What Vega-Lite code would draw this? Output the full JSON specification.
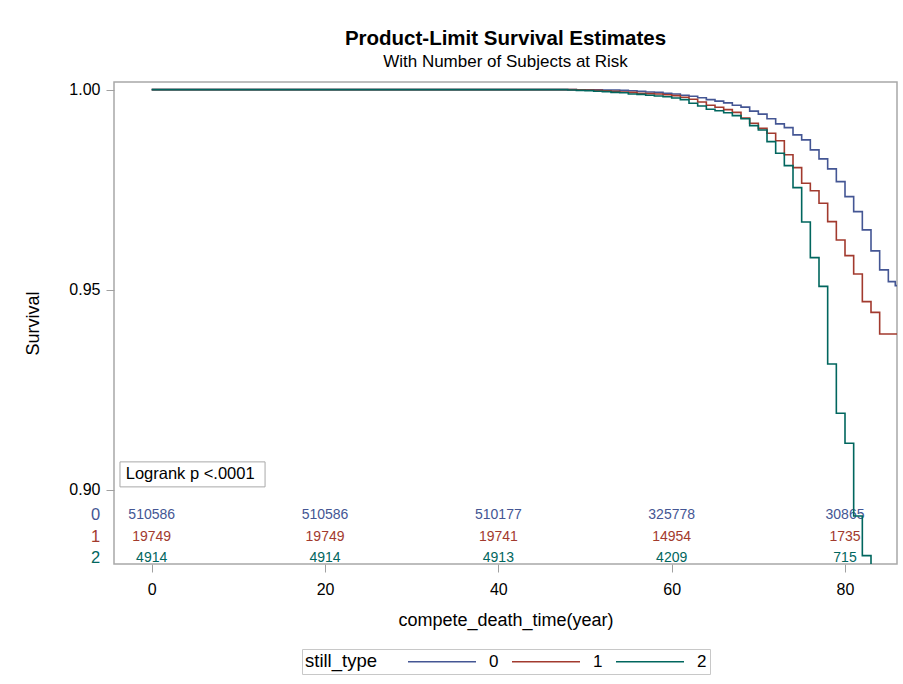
{
  "$schema": "https://vega.github.io/schema/vega-lite/v6.json",
  "width": 783,
  "height": 482,
  "autosize": {"type": "none"},
  "padding": {"left": 114, "top": 82, "right": 6, "bottom": 120},
  "background": "white",
  "title": {
    "text": "Product-Limit Survival Estimates",
    "subtitle": "With Number of Subjects at Risk",
    "font": "Liberation Sans",
    "fontSize": 20.5,
    "fontWeight": "bold",
    "color": "#000000",
    "subtitleFont": "Liberation Sans",
    "subtitleFontSize": 17,
    "subtitleColor": "#000000",
    "subtitlePadding": 4,
    "anchor": "middle",
    "offset": 12
  },
  "config": {
    "font": "Liberation Sans",
    "view": {"stroke": "#a8a8a8", "strokeWidth": 1.5},
    "legend": {"layout": {"bottom": {"anchor": "middle"}}}
  },
  "datasets": {
    "curves": [
      {"still_type": "0", "time": 0, "survival": 1.0},
      {"still_type": "0", "time": 49, "survival": 0.99995},
      {"still_type": "0", "time": 52, "survival": 0.9999},
      {"still_type": "0", "time": 54, "survival": 0.9998},
      {"still_type": "0", "time": 55, "survival": 0.9997},
      {"still_type": "0", "time": 56, "survival": 0.9996},
      {"still_type": "0", "time": 57, "survival": 0.9994},
      {"still_type": "0", "time": 58, "survival": 0.9993},
      {"still_type": "0", "time": 59, "survival": 0.9991},
      {"still_type": "0", "time": 60, "survival": 0.9989},
      {"still_type": "0", "time": 61, "survival": 0.9986},
      {"still_type": "0", "time": 62, "survival": 0.99835},
      {"still_type": "0", "time": 63, "survival": 0.99797},
      {"still_type": "0", "time": 64, "survival": 0.9975},
      {"still_type": "0", "time": 65, "survival": 0.99713},
      {"still_type": "0", "time": 66, "survival": 0.99667},
      {"still_type": "0", "time": 67, "survival": 0.9961},
      {"still_type": "0", "time": 68, "survival": 0.99563},
      {"still_type": "0", "time": 69, "survival": 0.99462},
      {"still_type": "0", "time": 70, "survival": 0.99388},
      {"still_type": "0", "time": 71, "survival": 0.9927},
      {"still_type": "0", "time": 72, "survival": 0.99142},
      {"still_type": "0", "time": 73, "survival": 0.9905},
      {"still_type": "0", "time": 74, "survival": 0.98867},
      {"still_type": "0", "time": 75, "survival": 0.98742},
      {"still_type": "0", "time": 76, "survival": 0.98492},
      {"still_type": "0", "time": 77, "survival": 0.98267},
      {"still_type": "0", "time": 78, "survival": 0.98017},
      {"still_type": "0", "time": 79, "survival": 0.977},
      {"still_type": "0", "time": 80, "survival": 0.97325},
      {"still_type": "0", "time": 81, "survival": 0.9695},
      {"still_type": "0", "time": 82, "survival": 0.96492},
      {"still_type": "0", "time": 83, "survival": 0.95967},
      {"still_type": "0", "time": 84, "survival": 0.95492},
      {"still_type": "0", "time": 85, "survival": 0.952},
      {"still_type": "0", "time": 85.8, "survival": 0.951},
      {"still_type": "0", "time": 86, "survival": 0.951},
      {"still_type": "1", "time": 0, "survival": 1.0},
      {"still_type": "1", "time": 49, "survival": 0.99995},
      {"still_type": "1", "time": 50, "survival": 0.9999},
      {"still_type": "1", "time": 51, "survival": 0.9998},
      {"still_type": "1", "time": 52, "survival": 0.9997},
      {"still_type": "1", "time": 53, "survival": 0.99955},
      {"still_type": "1", "time": 54, "survival": 0.9994},
      {"still_type": "1", "time": 55, "survival": 0.9993},
      {"still_type": "1", "time": 56, "survival": 0.9991},
      {"still_type": "1", "time": 57, "survival": 0.999},
      {"still_type": "1", "time": 58, "survival": 0.9989},
      {"still_type": "1", "time": 59, "survival": 0.9987},
      {"still_type": "1", "time": 60, "survival": 0.9985},
      {"still_type": "1", "time": 61, "survival": 0.9981},
      {"still_type": "1", "time": 62, "survival": 0.9976},
      {"still_type": "1", "time": 63, "survival": 0.9969},
      {"still_type": "1", "time": 64, "survival": 0.9961},
      {"still_type": "1", "time": 65, "survival": 0.9956},
      {"still_type": "1", "time": 66, "survival": 0.995},
      {"still_type": "1", "time": 67, "survival": 0.9943},
      {"still_type": "1", "time": 68, "survival": 0.9929},
      {"still_type": "1", "time": 69, "survival": 0.9916},
      {"still_type": "1", "time": 70, "survival": 0.9903},
      {"still_type": "1", "time": 71, "survival": 0.9891},
      {"still_type": "1", "time": 72, "survival": 0.9872},
      {"still_type": "1", "time": 73, "survival": 0.9837},
      {"still_type": "1", "time": 74, "survival": 0.9805},
      {"still_type": "1", "time": 75, "survival": 0.9766},
      {"still_type": "1", "time": 76, "survival": 0.9747},
      {"still_type": "1", "time": 77, "survival": 0.9716},
      {"still_type": "1", "time": 78, "survival": 0.967},
      {"still_type": "1", "time": 79, "survival": 0.9624},
      {"still_type": "1", "time": 80, "survival": 0.9585},
      {"still_type": "1", "time": 81, "survival": 0.9539},
      {"still_type": "1", "time": 82, "survival": 0.947},
      {"still_type": "1", "time": 83, "survival": 0.9443},
      {"still_type": "1", "time": 84, "survival": 0.9389},
      {"still_type": "1", "time": 86, "survival": 0.9389},
      {"still_type": "2", "time": 0, "survival": 1.0},
      {"still_type": "2", "time": 48, "survival": 0.9999},
      {"still_type": "2", "time": 49, "survival": 0.9998},
      {"still_type": "2", "time": 50, "survival": 0.99975},
      {"still_type": "2", "time": 51, "survival": 0.9996},
      {"still_type": "2", "time": 52, "survival": 0.9995},
      {"still_type": "2", "time": 53, "survival": 0.9993},
      {"still_type": "2", "time": 54, "survival": 0.9992},
      {"still_type": "2", "time": 55, "survival": 0.9989},
      {"still_type": "2", "time": 56, "survival": 0.9988},
      {"still_type": "2", "time": 57, "survival": 0.9986},
      {"still_type": "2", "time": 58, "survival": 0.9984},
      {"still_type": "2", "time": 59, "survival": 0.9982},
      {"still_type": "2", "time": 60, "survival": 0.9979},
      {"still_type": "2", "time": 61, "survival": 0.9975},
      {"still_type": "2", "time": 62, "survival": 0.9966},
      {"still_type": "2", "time": 63, "survival": 0.9959},
      {"still_type": "2", "time": 64, "survival": 0.9951},
      {"still_type": "2", "time": 65, "survival": 0.9947},
      {"still_type": "2", "time": 66, "survival": 0.9942},
      {"still_type": "2", "time": 67, "survival": 0.9935},
      {"still_type": "2", "time": 68, "survival": 0.9927},
      {"still_type": "2", "time": 69, "survival": 0.991},
      {"still_type": "2", "time": 70, "survival": 0.9899},
      {"still_type": "2", "time": 71, "survival": 0.987},
      {"still_type": "2", "time": 72, "survival": 0.9841},
      {"still_type": "2", "time": 73, "survival": 0.981},
      {"still_type": "2", "time": 74, "survival": 0.9755},
      {"still_type": "2", "time": 75, "survival": 0.9669},
      {"still_type": "2", "time": 76, "survival": 0.958},
      {"still_type": "2", "time": 77, "survival": 0.9508},
      {"still_type": "2", "time": 78, "survival": 0.9314},
      {"still_type": "2", "time": 79, "survival": 0.9191},
      {"still_type": "2", "time": 80, "survival": 0.9116},
      {"still_type": "2", "time": 81, "survival": 0.8934},
      {"still_type": "2", "time": 82, "survival": 0.8835},
      {"still_type": "2", "time": 83, "survival": 0.87}
    ],
    "risk": [
      {"still_type": "0", "time": 0, "n": "510586"},
      {"still_type": "0", "time": 20, "n": "510586"},
      {"still_type": "0", "time": 40, "n": "510177"},
      {"still_type": "0", "time": 60, "n": "325778"},
      {"still_type": "0", "time": 80, "n": "30865"},
      {"still_type": "1", "time": 0, "n": "19749"},
      {"still_type": "1", "time": 20, "n": "19749"},
      {"still_type": "1", "time": 40, "n": "19741"},
      {"still_type": "1", "time": 60, "n": "14954"},
      {"still_type": "1", "time": 80, "n": "1735"},
      {"still_type": "2", "time": 0, "n": "4914"},
      {"still_type": "2", "time": 20, "n": "4914"},
      {"still_type": "2", "time": 40, "n": "4913"},
      {"still_type": "2", "time": 60, "n": "4209"},
      {"still_type": "2", "time": 80, "n": "715"}
    ],
    "groups": [
      {"still_type": "0"},
      {"still_type": "1"},
      {"still_type": "2"}
    ],
    "note": [
      {"label": "Logrank p <.0001"}
    ]
  },
  "resolve": {"scale": {"y": "independent"}, "axis": {"y": "independent"}},
  "layer": [
    {
      "data": {"name": "note"},
      "mark": {"type": "rect", "fill": "white", "stroke": "#a8a8a8", "strokeWidth": 1},
      "encoding": {
        "x": {"datum": -3.66, "type": "quantitative", "scale": {"domain": [-4.35, 86.0], "nice": false, "zero": false}},
        "x2": {"datum": 13.08},
        "y": {"datum": 0.90693, "type": "quantitative", "scale": {"domain": [0.8814, 1.0019], "nice": false, "zero": false}, "axis": null},
        "y2": {"datum": 0.90068}
      }
    },
    {
      "data": {"name": "note"},
      "mark": {"type": "text", "align": "left", "baseline": "middle", "fontSize": 16.5, "color": "#000000", "font": "Liberation Sans"},
      "encoding": {
        "x": {"datum": -3.0, "type": "quantitative", "scale": {"domain": [-4.35, 86.0], "nice": false, "zero": false}},
        "y": {"datum": 0.9038, "type": "quantitative", "scale": {"domain": [0.8814, 1.0019], "nice": false, "zero": false}, "axis": null},
        "text": {"field": "label"}
      }
    },
    {
      "data": {"name": "risk"},
      "mark": {"type": "text", "align": "center", "baseline": "middle", "fontSize": 14, "font": "Liberation Sans"},
      "encoding": {
        "x": {"field": "time", "type": "quantitative", "scale": {"domain": [-4.35, 86.0], "nice": false, "zero": false}},
        "y": {"field": "still_type", "type": "nominal", "scale": {"type": "point", "domain": ["0", "1", "2"], "range": [433, 476], "padding": 0}, "axis": null},
        "color": {"field": "still_type", "type": "nominal"},
        "text": {"field": "n"}
      }
    },
    {
      "data": {"name": "groups"},
      "mark": {"type": "text", "align": "right", "baseline": "middle", "fontSize": 16.5, "font": "Liberation Sans"},
      "encoding": {
        "x": {"datum": -5.95, "type": "quantitative", "scale": {"domain": [-4.35, 86.0], "nice": false, "zero": false}},
        "y": {"field": "still_type", "type": "nominal", "scale": {"type": "point", "domain": ["0", "1", "2"], "range": [433, 476], "padding": 0}, "axis": null},
        "color": {"field": "still_type", "type": "nominal"},
        "text": {"field": "still_type"}
      }
    },
    {
      "data": {"name": "curves"},
      "mark": {"type": "line", "interpolate": "step-after", "clip": true, "strokeWidth": 1.6},
      "encoding": {
        "x": {
          "field": "time",
          "type": "quantitative",
          "scale": {"domain": [-4.35, 86.0], "nice": false, "zero": false},
          "axis": {
            "title": "compete_death_time(year)",
            "values": [0, 20, 40, 60, 80],
            "grid": false,
            "domain": false,
            "tickColor": "#a0a0a0",
            "tickSize": 8,
            "labelFontSize": 16,
            "labelColor": "#000000",
            "labelPadding": 9,
            "labelFont": "Liberation Sans",
            "titleFont": "Liberation Sans",
            "titleFontSize": 18,
            "titleFontWeight": "normal",
            "titleColor": "#000000",
            "titlePadding": 14
          }
        },
        "y": {
          "field": "survival",
          "type": "quantitative",
          "scale": {"domain": [0.8814, 1.0019], "nice": false, "zero": false},
          "axis": {
            "title": "Survival",
            "values": [0.9, 0.95, 1.0],
            "format": ".2f",
            "grid": false,
            "domain": false,
            "tickColor": "#a0a0a0",
            "tickSize": 8,
            "labelFontSize": 16,
            "labelColor": "#000000",
            "labelPadding": 6,
            "labelFont": "Liberation Sans",
            "titleFont": "Liberation Sans",
            "titleFontSize": 18,
            "titleFontWeight": "normal",
            "titleColor": "#000000",
            "titlePadding": 26
          }
        },
        "color": {
          "field": "still_type",
          "type": "nominal",
          "scale": {"domain": ["0", "1", "2"], "range": ["#445694", "#a23a2e", "#01665e"]},
          "legend": {
            "orient": "bottom",
            "direction": "horizontal",
            "title": "still_type",
            "titleOrient": "left",
            "titleFont": "Liberation Sans",
            "titleFontSize": 18.5,
            "titleFontWeight": "normal",
            "titleColor": "#000000",
            "titlePadding": 30,
            "titleBaseline": "middle",
            "labelFont": "Liberation Sans",
            "labelFontSize": 17,
            "labelColor": "#000000",
            "labelOffset": 63,
            "symbolType": "M-1,0H7",
            "symbolSize": 289,
            "symbolStrokeWidth": 1.5,
            "columnPadding": 10,
            "strokeColor": "#c8c8c8",
            "padding": 3,
            "offset": 20
          }
        }
      }
    }
  ]
}
